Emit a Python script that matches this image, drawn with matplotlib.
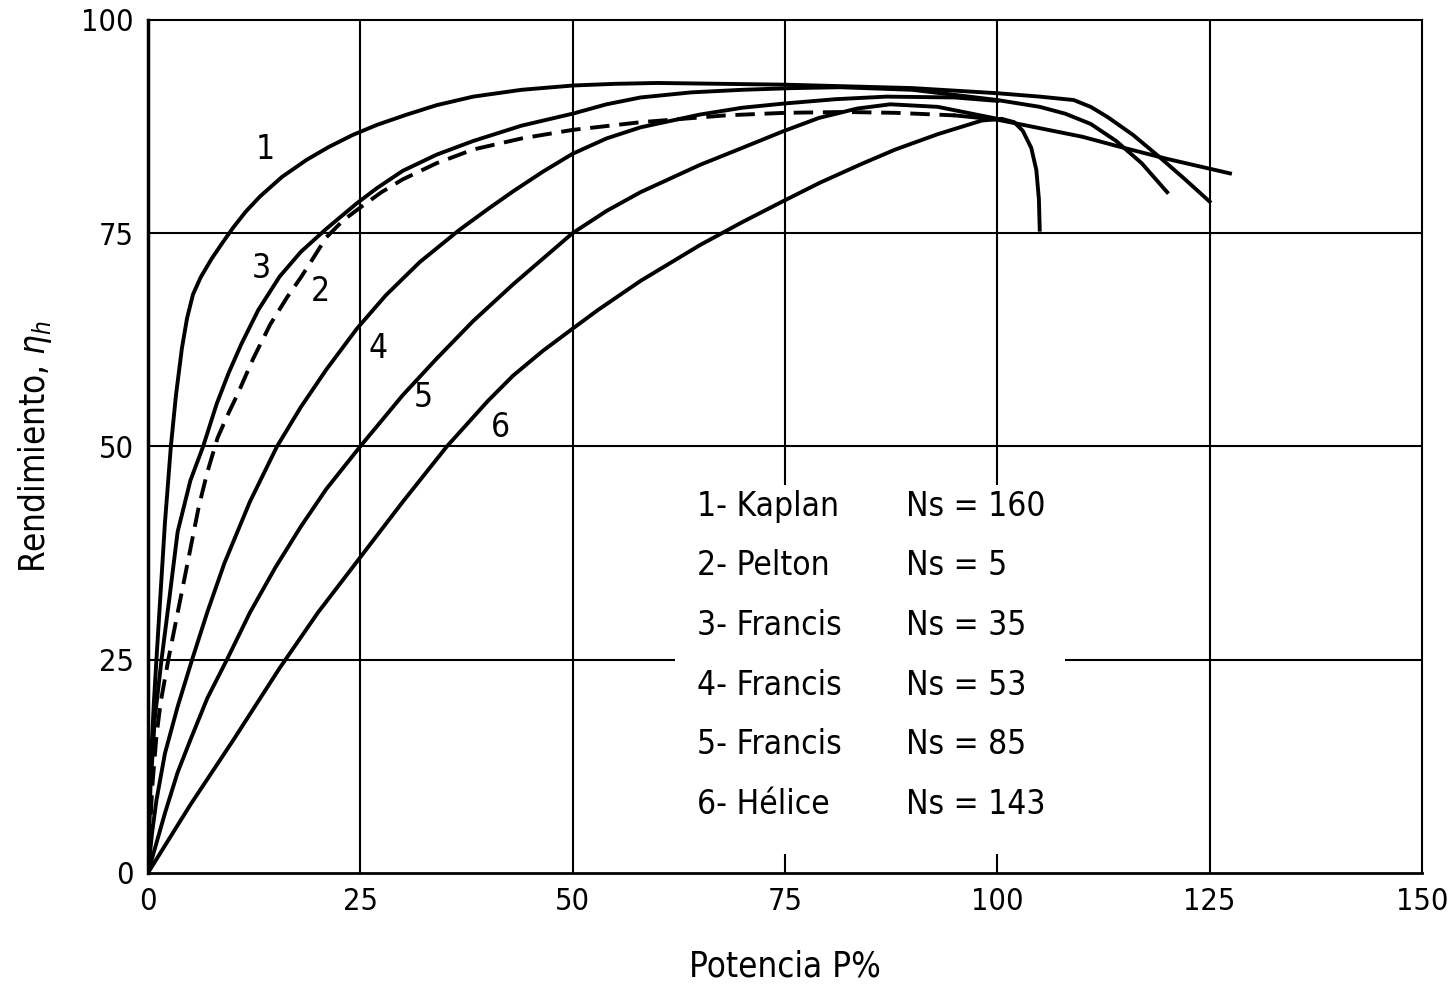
import matplotlib
matplotlib.use("Agg")
import matplotlib.pyplot as plt
from matplotlib.patches import Rectangle

plt.rcParams['font.family'] = ['Liberation Sans Narrow', 'DejaVu Sans']
plt.rcParams['font.stretch'] = 'condensed'

# curve data (P% , eta %)
kaplan_x = [0, 0.3, 0.7, 1.0, 1.5, 2.0, 2.7, 3.3, 4.0, 4.6, 5.3, 6.2, 7.5, 8.8, 10, 11.5, 13.2, 15.8, 18.7, 21.3, 24.1, 27, 30.5, 34, 38.3, 44, 50, 55, 60, 75, 90, 100, 105, 109, 111, 113, 116, 119, 122, 125]
kaplan_y = [0, 12, 20, 25, 33, 41, 50, 56, 61.5, 65, 67.8, 69.8, 72, 73.9, 75.6, 77.5, 79.3, 81.6, 83.6, 85.1, 86.5, 87.7, 88.9, 90, 91, 91.8, 92.3, 92.5, 92.6, 92.4, 92, 91.4, 91, 90.6, 89.8, 88.6, 86.5, 84, 81.4, 78.7]

pelton_x = [0, 0.5, 1.0, 1.5, 2.4, 3.2, 4, 5, 6, 7, 8.2, 9.3, 10.5, 12.4, 14.4, 16.4, 18, 19.1, 21, 23, 25, 27.5, 30, 34, 38.3, 44, 50, 58, 68, 75, 82, 88, 95]
pelton_y = [0, 10, 16, 20, 25, 29, 33, 38, 43, 47, 51, 53.5, 56, 60.3, 64.3, 67.5, 69.8, 71.5, 74.5, 76.5, 78, 79.8, 81.3, 83.2, 84.8, 86.1, 87.1, 88, 88.8, 89.1, 89.2, 89.1, 88.8]
pelton_tail_x = [95, 100, 105, 110, 114.5, 120, 127.4]
pelton_tail_y = [88.8, 88.3, 87.3, 86.3, 85.1, 83.7, 82]

fr35_x = [0, 0.3, 0.8, 1.6, 2.5, 3.5, 5, 6.5, 8.1, 9.5, 11, 13, 15.5, 18, 21, 24.6, 27, 30, 34, 38.3, 44, 50, 54, 58, 64, 70, 76, 81.5, 90, 100, 105, 108, 111, 114, 117, 120]
fr35_y = [0, 10, 18, 25, 32, 40, 46, 50, 55, 58.6, 62, 66, 69.9, 72.8, 75.5, 78.5, 80.3, 82.3, 84.2, 85.8, 87.6, 89, 90.1, 90.9, 91.5, 91.8, 92, 92.1, 91.8, 90.6, 89.8, 89, 87.8, 85.8, 83.2, 79.8]

fr53_x = [0, 0.5, 1, 2, 3.5, 5.2, 7, 9, 12, 15.2, 18, 21, 24.6, 28, 32, 36.7, 40, 43, 46.5, 50, 54, 58, 65, 70, 75, 81, 87, 95, 100]
fr53_y = [0, 4.8, 8.5, 14, 19.5, 25, 30.6, 36.3, 43.5, 50, 54.6, 59, 63.8, 67.7, 71.6, 75.4, 77.8, 79.9, 82.2, 84.3, 86.1, 87.4, 88.9, 89.7, 90.2, 90.7, 91, 90.9, 90.5]

fr85_x = [0, 1, 2, 3.5, 5, 7, 9.3, 12, 15, 18, 21, 25, 30, 34, 38.3, 43, 46.5, 50, 54, 58, 65, 70, 74.7, 79, 83.5, 87.4, 93, 100]
fr85_y = [0, 3.5, 7, 11.8, 15.6, 20.5, 25, 30.5, 35.8, 40.6, 45, 50, 56, 60.3, 64.7, 69, 72, 75, 77.6, 79.8, 83, 85, 86.9, 88.5, 89.6, 90.1, 89.8, 88.4]

hel_x = [0, 5, 10, 15.5, 20, 25, 30, 35.2, 40, 43, 46.5, 50, 53, 58, 65, 70, 74.7, 79.1, 84, 88, 93, 98.2, 100.5, 102, 103, 104, 104.6, 104.9, 105]
hel_y = [0, 8.0, 15.5, 24, 30.5, 37, 43.5, 50, 55.3, 58.3, 61.2, 63.8, 66, 69.4, 73.6, 76.3, 78.7, 80.9, 83.1, 84.8, 86.6, 88.2, 88.4, 88, 87, 85, 82.4, 79, 75.4]

curve_tags = ['1', '2', '3', '4', '5', '6']
tag_x = [13.8, 20.3, 13.4, 27.1, 32.4, 41.5]
tag_y = [84.8, 68.1, 70.9, 61.5, 55.7, 52.2]

legend_names = ['1- Kaplan', '2- Pelton', '3- Francis', '4- Francis', '5- Francis', '6- Hélice']
legend_ns = ['Ns = 160', 'Ns = 5', 'Ns = 35', 'Ns = 53', 'Ns = 85', 'Ns = 143']
legend_y = [42.9, 36, 29, 22, 15, 8]

ticks = [0, 25, 50, 75, 100, 125, 150]
yticks = [0, 25, 50, 75, 100]

fig = plt.figure(figsize=(14.56, 9.92), dpi=100)
ax = fig.add_axes([0.1016, 0.12, 0.875, 0.86])
ax.set_xlim(0, 150)
ax.set_ylim(0, 100)

for t in ticks[1:-1]:
    ax.axvline(t, color='black', lw=1.5, zorder=1)
for t in yticks[1:-1]:
    ax.axhline(t, color='black', lw=1.5, zorder=1)

# blank area behind the legend text
ax.add_patch(Rectangle((62.0, 2.2), 46.0, 43.3, facecolor='white', edgecolor='none', zorder=2))

lw = 2.8
ax.plot(kaplan_x, kaplan_y, color='black', lw=lw, zorder=3, solid_joinstyle='round')
ax.plot(pelton_x, pelton_y, color='black', lw=lw, dashes=(5, 2.5), zorder=3)
ax.plot(pelton_tail_x, pelton_tail_y, color='black', lw=lw, zorder=3)
ax.plot(fr35_x, fr35_y, color='black', lw=lw, zorder=3, solid_joinstyle='round')
ax.plot(fr53_x, fr53_y, color='black', lw=lw, zorder=3, solid_joinstyle='round')
ax.plot(fr85_x, fr85_y, color='black', lw=lw, zorder=3, solid_joinstyle='round')
ax.plot(hel_x, hel_y, color='black', lw=lw, zorder=3, solid_joinstyle='round')

for t, x, y in zip(curve_tags, tag_x, tag_y):
    ax.text(x, y, t, fontsize=24, ha='center', va='center', zorder=4)

for name, ns, y in zip(legend_names, legend_ns, legend_y):
    ax.text(64.7, y, name, fontsize=24, ha='left', va='center', zorder=4)
    ax.text(89.2, y, ns, fontsize=24, ha='left', va='center', zorder=4)

for s in ax.spines.values():
    s.set_linewidth(1.5)
ax.spines['left'].set_linewidth(2.5)
ax.spines['bottom'].set_linewidth(2.0)

ax.set_xticks(ticks)
ax.set_yticks(yticks)
ax.tick_params(length=0, labelsize=22, pad=10)
ax.set_xlabel('Potencia P%', fontsize=25, labelpad=24)
ax.set_ylabel('Rendimiento, $\\eta_h$', fontsize=25, labelpad=20)

fig.savefig('out.png', dpi=100)
